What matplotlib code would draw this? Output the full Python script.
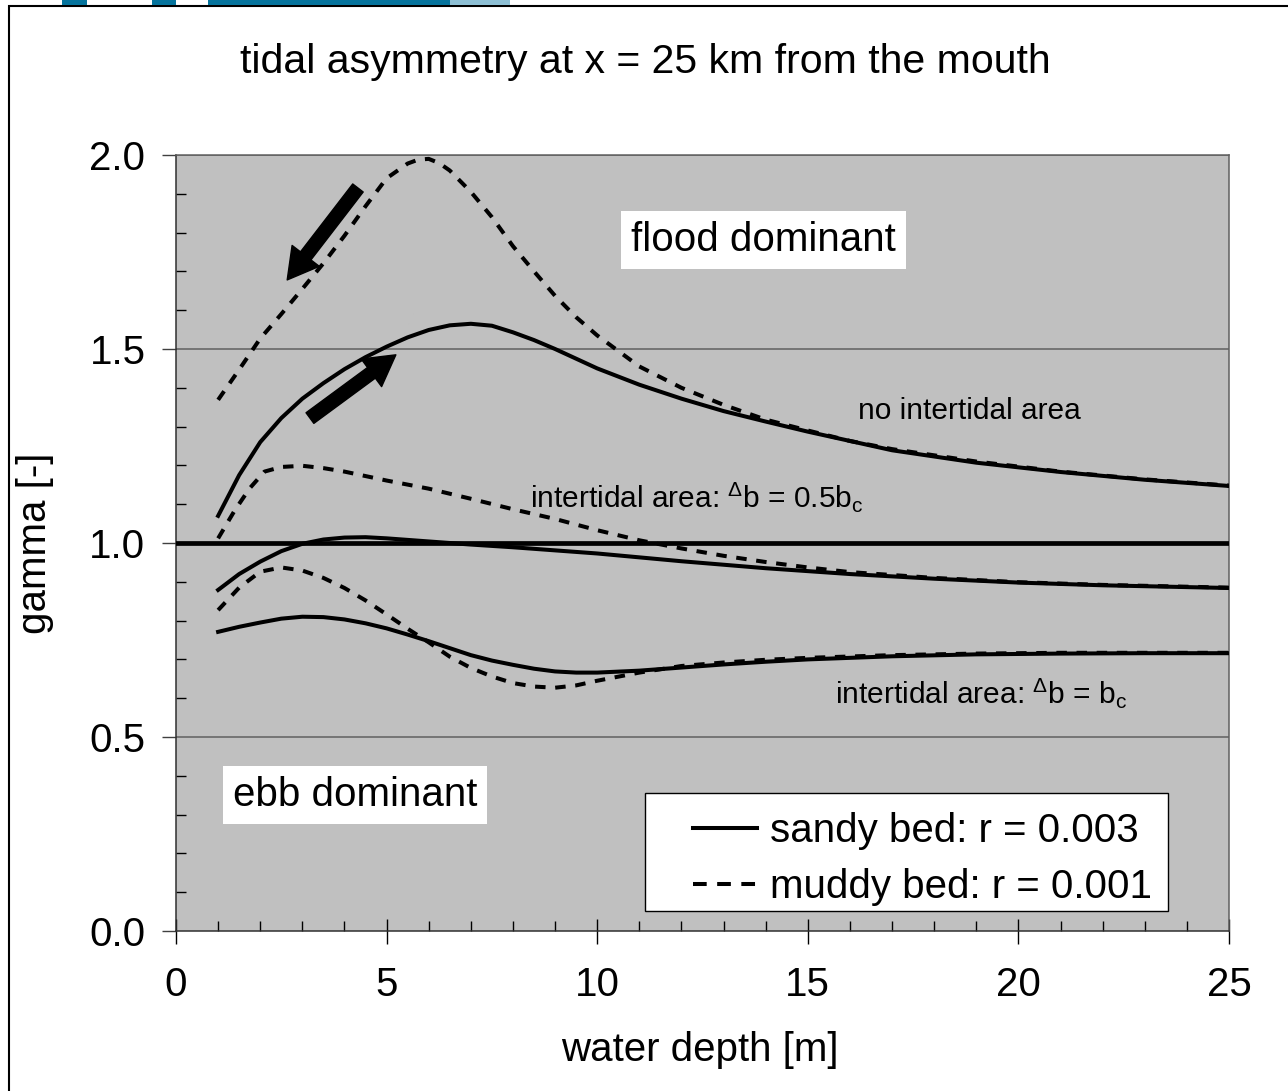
import numpy as np
import matplotlib
matplotlib.use("Agg")
import matplotlib.pyplot as plt
from matplotlib.patches import Rectangle
from matplotlib.ticker import MultipleLocator

plt.rcParams['font.family'] = ['Liberation Sans', 'DejaVu Sans']
plt.rcParams['mathtext.fontset'] = 'custom'
plt.rcParams['mathtext.rm'] = 'Liberation Sans'
plt.rcParams['mathtext.it'] = 'Liberation Sans:italic'

# no intertidal area
x_sand0 = [1, 1.5, 2, 2.5, 3, 3.5, 4, 4.5, 5, 5.5, 6, 6.5, 7, 7.5, 8, 8.5, 9, 9.5, 10, 11, 12, 13,
           14, 15, 17, 19, 21, 23, 25]
g_sand0 = [1.07, 1.175, 1.26, 1.322, 1.372, 1.412, 1.448, 1.479, 1.506, 1.530, 1.549, 1.561, 1.565,
           1.560, 1.543, 1.523, 1.50, 1.475, 1.45, 1.408, 1.372, 1.340, 1.313, 1.287, 1.239, 1.207,
           1.183, 1.163, 1.147]
x_mud0 = [1, 1.5, 2, 2.5, 3, 3.5, 4, 4.5, 5, 5.5, 5.75, 6, 6.25, 6.5, 7, 7.5, 8, 8.5, 9, 9.5, 10,
          11, 12, 13, 14, 15, 16, 17, 19, 21, 23, 25]
g_mud0 = [1.369, 1.447, 1.527, 1.590, 1.655, 1.721, 1.792, 1.868, 1.940, 1.978, 1.988, 1.99, 1.979,
          1.96, 1.905, 1.84, 1.765, 1.70, 1.637, 1.582, 1.535, 1.455, 1.400, 1.356, 1.318, 1.290,
          1.263, 1.242, 1.210, 1.184, 1.164, 1.148]

# intertidal area db = 0.5 bc
x_sand05 = [1, 1.5, 2, 2.5, 3, 3.5, 4, 4.5, 5, 6, 7, 8, 9, 10, 12, 14, 16, 18, 20, 22, 25]
g_sand05 = [0.879, 0.92, 0.952, 0.979, 0.998, 1.009, 1.014, 1.015, 1.012, 1.004, 0.996, 0.989,
            0.981, 0.973, 0.953, 0.935, 0.920, 0.908, 0.898, 0.891, 0.884]
x_mud05 = [1, 1.4, 1.75, 2.1, 2.5, 3, 3.5, 4, 5, 6, 7, 8, 9, 10, 11, 12, 13, 14, 15, 16, 18, 20, 22, 25]
g_mud05 = [1.012, 1.085, 1.141, 1.184, 1.196, 1.199, 1.193, 1.184, 1.161, 1.14, 1.114, 1.087, 1.062,
           1.033, 1.007, 0.986, 0.967, 0.951, 0.937, 0.925, 0.910, 0.899, 0.892, 0.885]

# intertidal area db = bc
x_sandbc = [1, 1.5, 2, 2.5, 3, 3.5, 4, 4.5, 5, 5.5, 6, 6.5, 7, 7.5, 8, 8.5, 9, 9.5, 10, 11, 12, 13,
            14, 15, 17, 19, 21, 23, 25]
g_sandbc = [0.771, 0.784, 0.795, 0.805, 0.810, 0.809, 0.803, 0.793, 0.780, 0.764, 0.747, 0.729,
            0.711, 0.697, 0.686, 0.676, 0.669, 0.666, 0.666, 0.671, 0.679, 0.687, 0.694, 0.700,
            0.708, 0.713, 0.715, 0.716, 0.716]
x_mudbc = [1, 1.5, 2, 2.5, 3, 3.5, 4, 4.5, 5, 5.5, 6, 6.5, 7, 7.5, 8, 8.5, 9, 9.5, 10, 11, 12, 13,
           14, 15, 17, 19, 21, 23, 25]
g_mudbc = [0.827, 0.885, 0.926, 0.937, 0.929, 0.91, 0.884, 0.852, 0.816, 0.779, 0.744, 0.707, 0.678,
           0.656, 0.639, 0.630, 0.627, 0.633, 0.645, 0.666, 0.683, 0.692, 0.699, 0.704, 0.711, 0.715,
           0.717, 0.717, 0.717]

W, H = 1288, 1091
fig = plt.figure(figsize=(W / 100, H / 100), dpi=100)
ax = fig.add_axes([176 / W, 1 - 931 / H, 1053 / W, 776 / H])
ax.set_facecolor('#c0c0c0')

fs = 29
lw = 2.9
dash = (0, (2.6, 2.4))

ax.axhline(1.0, color='black', lw=3.4, zorder=3)
for g in [0.5, 1.5, 2.0]:
    ax.axhline(g, color='#606060', lw=1.1, zorder=1)

ax.plot(x_sand0, g_sand0, color='black', lw=lw, zorder=4, label='sandy bed: r = 0.003')
ax.plot(x_mud0, g_mud0, color='black', lw=lw, ls=dash, zorder=4, label='muddy bed: r = 0.001')
ax.plot(x_sand05, g_sand05, color='black', lw=lw, zorder=4)
ax.plot(x_mud05, g_mud05, color='black', lw=lw, ls=dash, zorder=4)
ax.plot(x_sandbc, g_sandbc, color='black', lw=lw, zorder=4)
ax.plot(x_mudbc, g_mudbc, color='black', lw=lw, ls=dash, zorder=4)

ax.set_xlim(0, 25)
ax.set_ylim(0, 2)
ax.xaxis.set_major_locator(MultipleLocator(5))
ax.xaxis.set_minor_locator(MultipleLocator(1))
ax.yaxis.set_major_locator(MultipleLocator(0.5))
ax.yaxis.set_minor_locator(MultipleLocator(0.1))
ax.yaxis.set_major_formatter(matplotlib.ticker.FormatStrFormatter('%.1f'))
ax.tick_params(axis='x', which='major', direction='inout', length=18, width=1, pad=16, labelsize=fs)
ax.tick_params(axis='x', which='minor', direction='in', length=7, width=1)
ax.tick_params(axis='y', which='major', direction='out', length=10, width=1, pad=12, labelsize=fs,
               color='#404040')
ax.tick_params(axis='y', which='minor', direction='in', length=7, width=1)
for s in ax.spines.values():
    s.set_color('#606060')
    s.set_linewidth(1.1)
ax.spines['left'].set_color('#303030')
ax.spines['bottom'].set_color('#303030')

# arrows
arr = dict(arrowstyle='simple,head_width=1.3,head_length=1.15,tail_width=0.5',
           fc='black', ec='black', shrinkA=0, shrinkB=0, mutation_scale=19)
ax.annotate('', xy=(2.64, 1.678), xytext=(4.32, 1.915), arrowprops=arr, zorder=5)
ax.annotate('', xy=(5.22, 1.485), xytext=(3.18, 1.322), arrowprops=arr, zorder=5)

box = dict(boxstyle='square,pad=0.25', facecolor='white', edgecolor='none')
ax.text(13.94, 1.781, 'flood dominant', fontsize=fs, ha='center', va='center', bbox=box, zorder=6)
ax.text(4.25, 0.35, 'ebb dominant', fontsize=fs, ha='center', va='center', bbox=box, zorder=6)

afs = 21.5
ax.text(16.19, 1.34, 'no intertidal area', fontsize=afs, ha='left', va='center', zorder=6)
ax.text(8.40, 1.118, r'intertidal area: $^{\Delta}$b = 0.5b$_{\mathrm{c}}$', fontsize=afs,
        ha='left', va='center', zorder=6)
ax.text(15.65, 0.613, r'intertidal area: $^{\Delta}$b = b$_{\mathrm{c}}$', fontsize=afs,
        ha='left', va='center', zorder=6)

# legend: frame drawn separately so the padding can match the original box
ax.add_patch(Rectangle(((645 - 176) / 1053, (931 - 911) / 776), 523 / 1053, 118 / 776,
                       transform=ax.transAxes, facecolor='white', edgecolor='black', lw=1.0,
                       zorder=7))
leg = ax.legend(loc='center left', bbox_to_anchor=((693 - 176) / 1053, (931 - 859) / 776),
                borderaxespad=0, borderpad=0, fontsize=fs, frameon=False, handlelength=1.6,
                handletextpad=0.3, labelspacing=0.45)
leg.get_lines()[1].set_linestyle((0, (3.4, 2.6)))
leg.set_zorder(8)

fig.text(645 / W, 1 - 62 / H, 'tidal asymmetry at x = 25 km from the mouth', fontsize=fs + 0.5,
         ha='center', va='center')
fig.text(35 / W, 1 - 543 / H, 'gamma [-]', fontsize=fs, rotation=90, ha='center', va='center')
fig.text(700 / W, 1 - 1050 / H, 'water depth [m]', fontsize=fs, ha='center', va='center')

# outer frame and logo strip at the top edge
fig.add_artist(Rectangle((9 / W, -0.05), 1.2, (H - 6) / H + 0.05, transform=fig.transFigure,
                         fill=False, edgecolor='black', lw=1.5))
for x0, x1, c in [(62, 87, '#05739c'), (152, 176, '#05739c'), (208, 450, '#05739c'),
                  (450, 510, '#8dbfd4')]:
    fig.add_artist(Rectangle((x0 / W, 1 - 5 / H), (x1 - x0) / W, 5 / H, transform=fig.transFigure,
                             facecolor=c, edgecolor='none'))

fig.savefig('out.png', dpi=100)
